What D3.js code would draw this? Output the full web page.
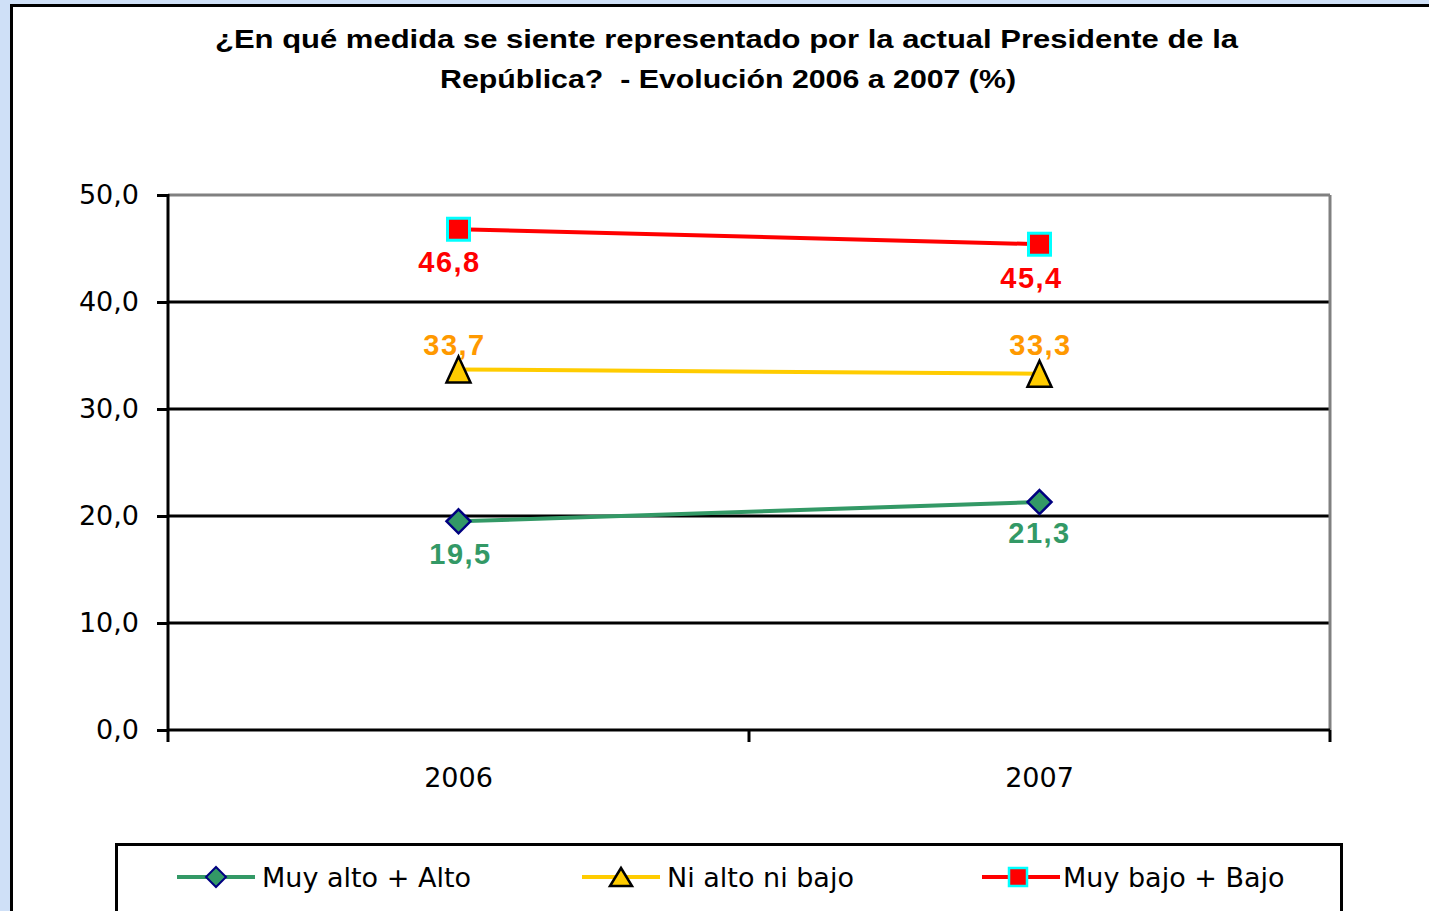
<!DOCTYPE html>
<html><head><meta charset="utf-8">
<script src="https://cdn.jsdelivr.net/npm/d3@7/dist/d3.min.js"></script>
<style>
html,body{margin:0;padding:0;background:#cfe0f7;overflow:hidden;}
svg{display:block;}
</style></head>
<body>
<svg id="chart" width="1429" height="911"></svg>
<script>
const titleLines = ["¿En qué medida se siente representado por la actual Presidente de la", "República?  - Evolución 2006 a 2007 (%)"];
const categories = ["2006", "2007"];
const seriesNames = ["Muy alto + Alto", "Ni alto ni bajo", "Muy bajo + Bajo"];
const seriesAlto = [19.5, 21.3];
const seriesNi = [33.7, 33.3];
const seriesBajo = [46.8, 45.4];
const yTicks = [0, 10, 20, 30, 40, 50];

const svg = d3.select("#chart");
// panel
svg.append("rect").attr("x", 11.5).attr("y", 5.5).attr("width", 1500).attr("height", 1000)
  .attr("fill", "#fff").attr("stroke", "#000").attr("stroke-width", 3);

// title
const tw = [1023, 576];
const tx = [215, 440];
titleLines.forEach((t, i) => {
  svg.append("text").attr("x", tx[i]).attr("y", 48 + i * 40)
    .attr("xml:space", "preserve").style("white-space", "pre")
    .attr("font-family", "Liberation Sans, Arial, sans-serif").attr("font-weight", "bold")
    .attr("font-size", 26).attr("textLength", tw[i]).attr("lengthAdjust", "spacingAndGlyphs")
    .attr("fill", "#000").text(t);
});

const L = 168, R = 1330, T = 195, B = 730;
const x = d3.scaleBand().domain(categories).range([L, R]);
const y = d3.scaleLinear().domain([0, 50]).range([B, T]);

// gridlines
const g = svg.append("g");
g.selectAll("line.grid").data(yTicks.filter(v => v > 0)).join("line")
  .attr("x1", L).attr("x2", R).attr("y1", d => y(d)).attr("y2", d => y(d))
  .attr("stroke", d => d === 50 ? "#808080" : "#000").attr("stroke-width", 3);
// right border
g.append("line").attr("x1", R).attr("x2", R).attr("y1", T).attr("y2", B).attr("stroke", "#808080").attr("stroke-width", 3);

// y axis
const yAxis = d3.axisLeft(y).tickValues(yTicks).tickSize(11).tickPadding(18)
  .tickFormat(d => d3.format(".1f")(d).replace(".", ","));
const ya = svg.append("g").attr("transform", `translate(${L},0)`).call(yAxis);
ya.select(".domain").attr("stroke", "#000").attr("stroke-width", 3).attr("d", `M0,${T-1}V${B}`);
ya.selectAll(".tick line").attr("stroke", "#000").attr("stroke-width", 3);
ya.selectAll(".tick text").attr("font-family", "DejaVu Sans, sans-serif").attr("font-size", 27).attr("fill", "#000").attr("dy", "0.33em");

// x axis
const xAxis = d3.axisBottom(x).tickSize(0).tickPadding(38);
const xa = svg.append("g").attr("transform", `translate(0,${B})`).call(xAxis);
xa.select(".domain").attr("stroke", "#000").attr("stroke-width", 3).attr("d", `M${L},0H${R}`);
xa.selectAll(".tick text").attr("font-family", "DejaVu Sans, sans-serif").attr("font-size", 27).attr("fill", "#000").attr("dy", "0.71em");
// boundary ticks
const bt = [L, L + x.bandwidth(), R];
svg.append("g").selectAll("line").data(bt).join("line")
  .attr("x1", d => d).attr("x2", d => d).attr("y1", B).attr("y2", B + 12)
  .attr("stroke", "#000").attr("stroke-width", 3);

const series = [
  {name: seriesNames[0], values: seriesAlto, color: "#339966", label: "#339966", marker: "diamond", lpos: [ 43, 41 ]},
  {name: seriesNames[1], values: seriesNi, color: "#ffcc00", label: "#ff9900", marker: "triangle", lpos: [ -14, -19 ]},
  {name: seriesNames[2], values: seriesBajo, color: "#ff0000", label: "#ff0000", marker: "square", lpos: [ 43, 44 ]}
];
const labelDx = [[2, 0], [-4, 1], [-9, -8]];

function drawMarker(sel, type) {
  if (type === "square") {
    sel.append("rect").attr("x", -11).attr("y", -11).attr("width", 22).attr("height", 22)
      .attr("fill", "#ff0000").attr("stroke", "#00ffff").attr("stroke-width", 3);
  } else if (type === "triangle") {
    sel.append("path").attr("d", "M0,-13L12,13L-12,13Z").attr("fill", "#ffcc00")
      .attr("stroke", "#000").attr("stroke-width", 2.5);
  } else {
    sel.append("path").attr("d", "M0,-12L12,0L0,12L-12,0Z").attr("fill", "#339966")
      .attr("stroke", "#000080").attr("stroke-width", 2.5);
  }
}

const line = d3.line().x((d, i) => x(categories[i]) + x.bandwidth() / 2).y(d => y(d));
series.forEach((s, si) => {
  svg.append("path").datum(s.values).attr("d", line).attr("fill", "none")
    .attr("stroke", s.color).attr("stroke-width", 4);
});
series.forEach((s, si) => {
  s.values.forEach((v, i) => {
    const cx = x(categories[i]) + x.bandwidth() / 2, cy = y(v);
    const m = svg.append("g").attr("transform", `translate(${cx},${cy})`);
    drawMarker(m, s.marker);
    svg.append("text").attr("x", cx + labelDx[si][i]).attr("y", cy + s.lpos[i])
      .attr("text-anchor", "middle").attr("font-family", "Liberation Sans, Arial, sans-serif")
      .attr("font-weight", "bold").attr("font-size", 29).attr("letter-spacing", 1.5)
      .attr("fill", s.label).text(d3.format(".1f")(v).replace(".", ","));
  });
});

// legend
svg.append("rect").attr("x", 116.5).attr("y", 844.5).attr("width", 1225).attr("height", 200)
  .attr("fill", "#fff").attr("stroke", "#000").attr("stroke-width", 3);
const legX = [177, 582, 982];
series.forEach((s, i) => {
  const lg = svg.append("g").attr("transform", `translate(${legX[i]},877)`);
  lg.append("line").attr("x1", 0).attr("x2", 78).attr("y1", 0).attr("y2", 0).attr("stroke", s.color).attr("stroke-width", 4);
  const m = lg.append("g").attr("transform", `translate(${i === 2 ? 36 : 39},0)`);
  if (s.marker === "square") {
    m.append("rect").attr("x", -9).attr("y", -9).attr("width", 18).attr("height", 18)
      .attr("fill", "#ff0000").attr("stroke", "#00ffff").attr("stroke-width", 2.5);
  } else if (s.marker === "triangle") {
    m.append("path").attr("d", "M0,-9L11,9L-11,9Z").attr("fill", "#ffcc00").attr("stroke", "#000").attr("stroke-width", 2.5);
  } else {
    m.append("path").attr("d", "M0,-10L10,0L0,10L-10,0Z").attr("fill", "#339966").attr("stroke", "#000080").attr("stroke-width", 2);
  }
  lg.append("text").attr("x", i === 2 ? 81 : 85).attr("y", 10).attr("font-family", "DejaVu Sans, sans-serif")
    .attr("font-size", 27).attr("fill", "#000").text(s.name);
});
</script>
</body></html>
